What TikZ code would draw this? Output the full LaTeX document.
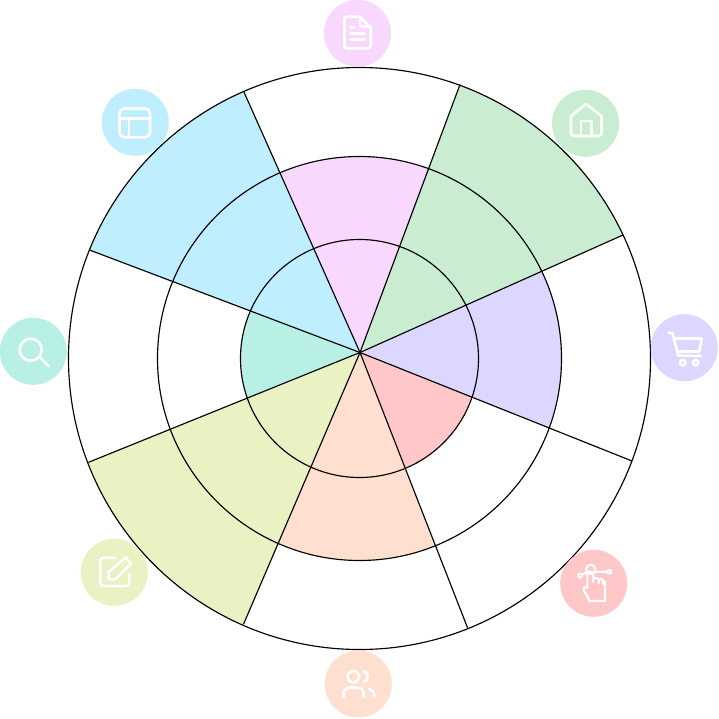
\documentclass[tikz,border=0pt]{standalone}
\usetikzlibrary{calc}
\definecolor{cPink}{HTML}{F9D8FE}
\definecolor{cGreen}{HTML}{CAEDD2}
\definecolor{cPurple}{HTML}{DCD7FE}
\definecolor{cRed}{HTML}{FFC7C8}
\definecolor{cOrange}{HTML}{FFE0D0}
\definecolor{cYellow}{HTML}{EAF1C2}
\definecolor{cTeal}{HTML}{B9F0E5}
\definecolor{cBlue}{HTML}{BEEEFF}
\tikzset{
  ringline/.style={draw=black,line width=1.15pt},
  rayline/.style={draw=black,line width=1.15pt},
  badge/.style={circle,minimum size=67pt,inner sep=0pt,draw=none},
  glyph/.style={draw=white,line width=2.6pt,line cap=round,line join=round},
  thinglyph/.style={draw=white,line width=2.1pt,line cap=round,line join=round},
}
\newcommand{\sector}[4]{%
  \begin{scope}
    \clip (ctr) circle[radius=#2pt];
    \fill[#1] (hub) -- ($(hub)!1.6!(#3)$) -- ($(hub)!1.6!(#4)$) -- cycle;
  \end{scope}}
\begin{document}
\begin{tikzpicture}[x=1pt,y=-1pt]
\useasboundingbox (0,0) rectangle (718,719);
\fill[white] (0,0) rectangle (718,719);
\coordinate (ctr) at (359.5,358.5);
\coordinate (hub) at (360,352.5);
\coordinate (rTL) at (243.5,91);
\coordinate (rTR) at (460,84.5);
\coordinate (rRU) at (623,235);
\coordinate (rRL) at (632,461);
\coordinate (rBR) at (467.5,627.7);
\coordinate (rBL) at (243.5,624.2);
\coordinate (rLL) at (88.5,462.3);
\coordinate (rLU) at (89.5,250);
% sectors
\sector{cBlue}{291}{rLU}{rTL}
\sector{cPink}{202}{rTL}{rTR}
\sector{cGreen}{291}{rTR}{rRU}
\sector{cPurple}{202}{rRU}{rRL}
\sector{cRed}{119}{rRL}{rBR}
\sector{cOrange}{202}{rBR}{rBL}
\sector{cYellow}{291}{rBL}{rLL}
\sector{cTeal}{119}{rLL}{rLU}
% rings
\draw[ringline] (ctr) circle[radius=119pt];
\draw[ringline] (ctr) circle[radius=202pt];
\draw[ringline] (ctr) circle[radius=291pt];
% rays
\foreach \e in {rTL,rTR,rRU,rRL,rBR,rBL,rLL,rLU}{\draw[rayline] (hub) -- (\e);}
% badges
\node[badge,fill=cPink]   (bDoc)    at (357.5,33.3)  {};
\node[badge,fill=cGreen]  (bHome)   at (585.5,123.3) {};
\node[badge,fill=cPurple] (bCart)   at (684.3,347.7) {};
\node[badge,fill=cRed]    (bHand)   at (593.7,583.3) {};
\node[badge,fill=cOrange] (bUsers)  at (358.3,684)   {};
\node[badge,fill=cYellow] (bEdit)   at (114.3,572.3) {};
\node[badge,fill=cTeal]   (bSearch) at (33.3,351.3)  {};
\node[badge,fill=cBlue]   (bLayout) at (135.3,122.3) {};
% document
\draw[glyph] (360,16.7) -- (347,16.7) .. controls (345,16.7) and (344.3,17.7) .. (344.3,19.5) -- (344.3,45.5) .. controls (344.3,47.3) and (345,48.3) .. (347,48.3) -- (368,48.3) .. controls (370,48.3) and (370.7,47.3) .. (370.7,45.5) -- (370.7,28) -- cycle;
\draw[glyph] (360,16.7) -- (360,26.5) -- (370.7,26.5);
\draw[glyph] (350.5,27.3) -- (354.5,27.3) (350.5,33.3) -- (364.5,33.3) (350.5,39.3) -- (364.5,39.3);
% home
\draw[glyph] (586,104) -- (571,116) -- (571,133) .. controls (571,135) and (572,136) .. (574,136) -- (598,136) .. controls (600,136) and (601.5,135) .. (601.5,133) -- (601.5,116) -- cycle;
\draw[glyph] (581,136) -- (581,121) -- (591.5,121) -- (591.5,136);
% cart
\draw[glyph] (668.5,332.7) -- (672.7,333) -- (678,355.5) -- (701,356);
\draw[glyph] (674,338.5) -- (701.7,338.5) -- (699.3,351.5) -- (677.2,351.5);
\draw[glyph] (682.7,362.7) circle[radius=2.7pt];
\draw[glyph] (695.7,362.7) circle[radius=2.7pt];
% hand
\draw[thinglyph] (590.7,569.3) circle[radius=4.7pt];
\draw[thinglyph] (580,575.7) circle[radius=2pt];
\draw[thinglyph] (609.3,571.7) circle[radius=2pt];
\draw[thinglyph] (582,574.8) -- (586.5,572) (595.4,572) -- (607.2,571.7);
\draw[thinglyph] (589.5,601) -- (586,594) -- (584,591) -- (584,587.5) .. controls (584,586) and (587.3,586) .. (587.3,588) -- (587.3,573.5) .. controls (587.3,571) and (593.3,571) .. (593.3,573.5) -- (593.3,582) -- (593.3,579.5) .. controls (593.3,577.5) and (598.7,577.5) .. (598.7,579.5) -- (598.7,583) -- (598.7,580.5) .. controls (598.7,578.7) and (603,578.7) .. (603,580.5) -- (603,584) -- (603,582) .. controls (603,580.5) and (605,580.5) .. (605,582) -- (605,601) -- cycle;
% users
\draw[glyph] (353.3,676.7) circle[radius=5.7pt];
\draw[glyph] (364,671) .. controls (369,672.5) and (369,681) .. (364,682);
\draw[glyph] (343.5,697) -- (343.5,693) .. controls (343.5,689.5) and (346.5,687.7) .. (349,687.7) -- (358,687.7) .. controls (361,687.7) and (363.5,689.5) .. (363.5,693) -- (363.5,697);
\draw[glyph] (369,688.5) .. controls (372,689.5) and (374.5,691.5) .. (374.5,696.5);
% edit
\draw[glyph] (115,557.7) -- (104,557.7) .. controls (101.5,557.7) and (100.3,559) .. (100.3,561) -- (100.3,582.5) .. controls (100.3,585) and (101.5,586) .. (104,586) -- (125.5,586) .. controls (128,586) and (129.3,585) .. (129.3,582.5) -- (129.3,573.5);
\draw[glyph] (108.5,572) -- (125.5,557.5) -- (131.3,563.5) -- (115.5,579.3) -- (108.5,579.3) -- cycle;
% search
\draw[glyph] (30.7,349.7) circle[radius=11pt];
\draw[glyph] (40.7,358) -- (48.7,366.3);
% layout
\draw[glyph,rounded corners=5pt] (119.5,108.5) rectangle (150,137.3);
\draw[glyph] (119.5,118.3) -- (150,118.3) (129,118.3) -- (129,137.3);
\end{tikzpicture}
\end{document}
